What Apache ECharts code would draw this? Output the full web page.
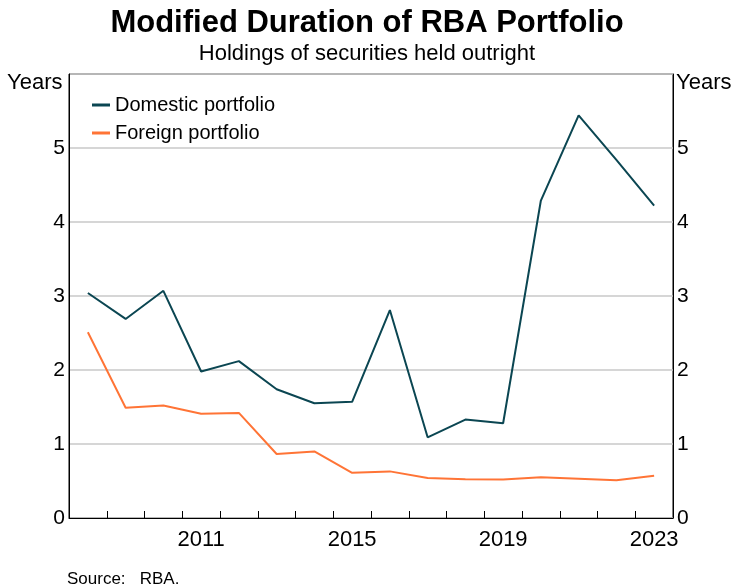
<!DOCTYPE html>
<html>
<head>
<meta charset="utf-8">
<script src="https://cdn.jsdelivr.net/npm/echarts@6/dist/echarts.min.js"></script>
<style>
  html, body { margin: 0; padding: 0; background: #fff; }
  #chart { width: 734px; height: 588px; }
</style>
</head>
<body>
<div id="chart"></div>
<script>
// data (June of each year)
const years = ["2008", "2009", "2010", "2011", "2012", "2013", "2014", "2015",
  "2016", "2017", "2018", "2019", "2020", "2021", "2022", "2023"];
const domestic = [3.04, 2.69, 3.07, 1.98, 2.12, 1.74, 1.55, 1.57,
  2.81, 1.09, 1.33, 1.28, 4.29, 5.44, 4.84, 4.22];
const foreign = [2.51, 1.49, 1.52, 1.41, 1.42, 0.865, 0.9, 0.61,
  0.63, 0.54, 0.525, 0.52, 0.55, 0.53, 0.51, 0.57];
const yTicks = [0, 1, 2, 3, 4, 5, 6];

const font = "Liberation Sans, Arial, sans-serif";
const chart = echarts.init(document.getElementById("chart"));

const yAxisBase = {
  type: "value",
  min: yTicks[0],
  max: yTicks[yTicks.length - 1],
  interval: 1,
  axisLine: { show: true, lineStyle: { color: "#000", width: 1 } },
  axisTick: { show: false },
  splitLine: { show: true, lineStyle: { color: "#c8c8c8", width: 1.5 } },
  axisLabel: {
    color: "#000",
    fontSize: 21,
    fontFamily: font,
    margin: 4,
    formatter: (v) => (v === 6 ? "" : String(v)),
  },
};

chart.setOption({
  animation: false,
  title: [
    {
      text: "Modified Duration of RBA Portfolio",
      left: "center",
      top: 3,
      textStyle: { fontSize: 31, fontWeight: "bold", fontFamily: font, color: "#000" },
    },
    {
      text: "Holdings of securities held outright",
      left: "center",
      top: 38,
      textStyle: { fontSize: 22, fontWeight: "normal", fontFamily: font, color: "#000" },
    },
    {
      text: "Source:   RBA.",
      left: 62,
      top: 566,
      textStyle: { fontSize: 17, fontWeight: "normal", fontFamily: font, color: "#000" },
    },
  ],
  grid: {
    left: 69,
    right: 61,
    top: 74,
    bottom: 70,
    show: true,
    borderColor: "#000",
    borderWidth: 1,
  },
  legend: {
    orient: "vertical",
    left: 87,
    top: 90,
    itemGap: 8,
    itemWidth: 18,
    itemHeight: 3,
    icon: "rect",
    textStyle: { fontSize: 20, fontFamily: font, color: "#000" },
    data: ["Domestic portfolio", "Foreign portfolio"],
  },
  graphic: [
    {
      type: "text",
      left: 7,
      top: 72,
      style: { text: "Years", fontSize: 22, fontFamily: font, fill: "#000" },
    },
    {
      type: "text",
      left: 676,
      top: 72,
      style: { text: "Years", fontSize: 22, fontFamily: font, fill: "#000" },
    },
  ],
  xAxis: {
    type: "category",
    data: years,
    boundaryGap: true,
    axisLine: { lineStyle: { color: "#000", width: 1 } },
    axisTick: { show: true, inside: true, length: 7, interval: 0, lineStyle: { color: "#000" } },
    axisLabel: {
      color: "#000",
      fontSize: 22,
      fontFamily: font,
      margin: 11,
      interval: (i, v) => Number(v) % 4 === 3,
    },
    splitLine: { show: false },
  },
  yAxis: [
    Object.assign({}, yAxisBase, { position: "left" }),
    Object.assign({}, yAxisBase, { position: "right", splitLine: { show: false } }),
  ],
  series: [
    {
      name: "Domestic portfolio",
      type: "line",
      data: domestic,
      symbol: "none",
      color: "#0b4652",
      lineStyle: { width: 2, color: "#0b4652" },
    },
    {
      name: "Foreign portfolio",
      type: "line",
      data: foreign,
      symbol: "none",
      color: "#ff7436",
      lineStyle: { width: 2, color: "#ff7436" },
    },
  ],
});
</script>
</body>
</html>
